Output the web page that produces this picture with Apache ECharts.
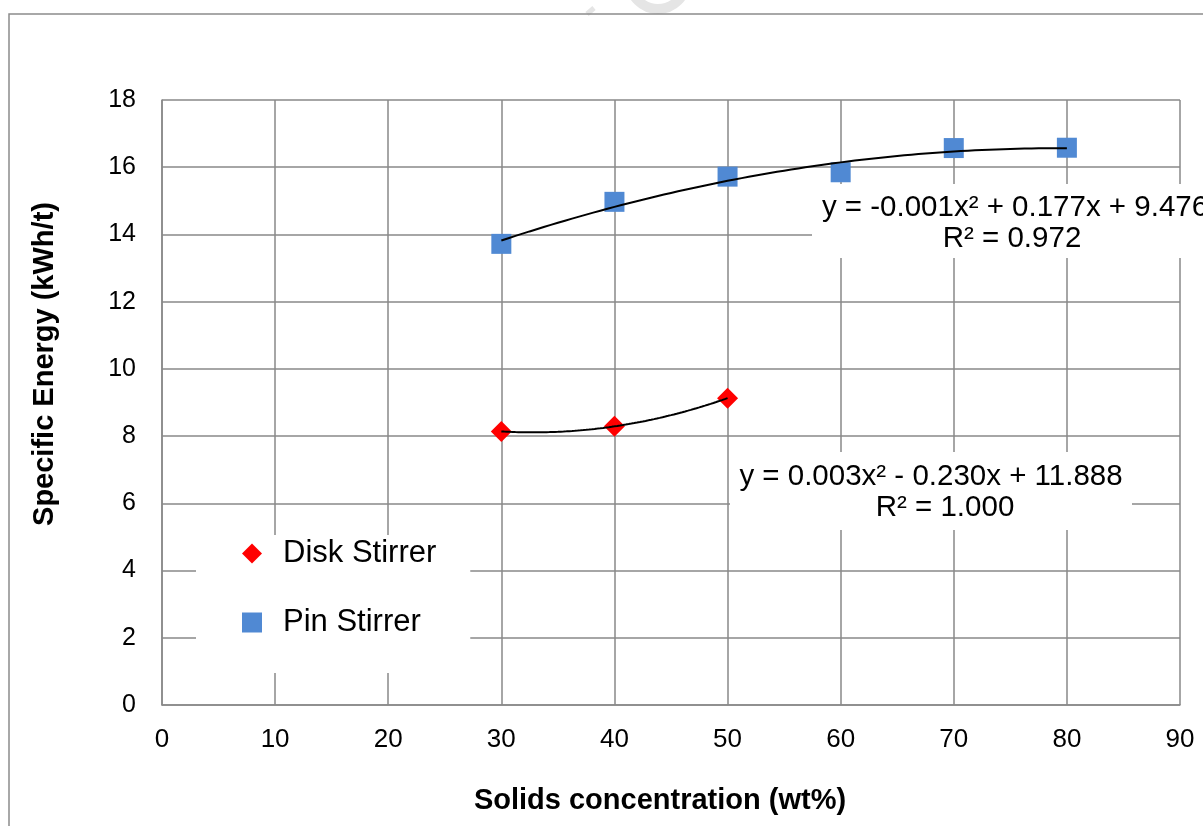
<!DOCTYPE html>
<html>
<head>
<meta charset="utf-8">
<title>Specific Energy vs Solids concentration</title>
<script src="https://cdn.jsdelivr.net/npm/echarts@6/dist/echarts.min.js"></script>
<style>
  html, body { margin: 0; padding: 0; background: #ffffff; }
  #chart { width: 1203px; height: 826px; }
</style>
</head>
<body>
<div id="chart"></div>
<script>
// Solids concentration (wt%) at which each stirrer was measured
const diskX = [30, 40, 50];
const pinX = [30, 40, 50, 60, 70, 80];
// Specific energy (kWh/t)
const diskY = [8.14, 8.29, 9.13];
const pinY = [13.72, 14.97, 15.72, 15.85, 16.57, 16.58];

const seriesNames = ['Disk Stirrer', 'Pin Stirrer'];
const xTicks = [0, 10, 20, 30, 40, 50, 60, 70, 80, 90];
const yTicks = [0, 2, 4, 6, 8, 10, 12, 14, 16, 18];
const xTitle = 'Solids concentration (wt%)';
const yTitle = 'Specific Energy (kWh/t)';
const diskEquation = ['y = 0.003x² - 0.230x + 11.888', 'R² = 1.000'];
const pinEquation = ['y = -0.001x² + 0.177x + 9.476', 'R² = 0.972'];

// Least-squares second order polynomial fit, returns [c0, c1, c2]
function polyFit2(xs, ys) {
  const n = xs.length;
  let s = [0, 0, 0, 0, 0], t = [0, 0, 0];
  for (let i = 0; i < n; i++) {
    let p = 1;
    for (let k = 0; k <= 4; k++) { s[k] += p; if (k <= 2) t[k] += p * ys[i]; p *= xs[i]; }
  }
  const m = [[s[0], s[1], s[2], t[0]], [s[1], s[2], s[3], t[1]], [s[2], s[3], s[4], t[2]]];
  for (let c = 0; c < 3; c++) {
    let piv = c;
    for (let r = c + 1; r < 3; r++) if (Math.abs(m[r][c]) > Math.abs(m[piv][c])) piv = r;
    [m[c], m[piv]] = [m[piv], m[c]];
    for (let r = 0; r < 3; r++) {
      if (r === c) continue;
      const f = m[r][c] / m[c][c];
      for (let k = c; k < 4; k++) m[r][k] -= f * m[c][k];
    }
  }
  return [m[0][3] / m[0][0], m[1][3] / m[1][1], m[2][3] / m[2][2]];
}

// Polynomial trendline evaluated across the measured range
function trendCurve(xs, ys) {
  const c = polyFit2(xs, ys);
  const x0 = Math.min(...xs), x1 = Math.max(...xs);
  const pts = [];
  const steps = 80;
  for (let i = 0; i <= steps; i++) {
    const x = x0 + (x1 - x0) * i / steps;
    pts.push([x, c[0] + c[1] * x + c[2] * x * x]);
  }
  return pts;
}

const zip = (xs, ys) => xs.map((x, i) => [x, ys[i]]);

const FONT = '"Liberation Sans", Arial, sans-serif';
const GRID = '#898989';
const BLUE = '#5089D3';
const RED = '#FF0000';

const chart = echarts.init(document.getElementById('chart'), null, { renderer: 'canvas' });

function eqText(x, y, text) {
  return {
    type: 'text', x: x, y: y, z: 11, silent: true,
    style: { text: text, font: '29.5px ' + FONT, fill: '#000', align: 'center', verticalAlign: 'middle' }
  };
}

chart.setOption({
  backgroundColor: '#ffffff',
  animation: false,
  textStyle: { fontFamily: FONT, color: '#000' },
  grid: { left: 162, right: 23, top: 100, bottom: 121, containLabel: false },
  xAxis: {
    type: 'value',
    min: xTicks[0],
    max: xTicks[xTicks.length - 1],
    interval: xTicks[1] - xTicks[0],
    axisLine: { show: true, lineStyle: { color: GRID, width: 1.5 } },
    axisTick: { show: false },
    axisLabel: { fontFamily: FONT, fontSize: 26, color: '#000', margin: 22 },
    splitLine: { show: true, lineStyle: { color: GRID, width: 1.5 } }
  },
  yAxis: {
    type: 'value',
    min: yTicks[0],
    max: yTicks[yTicks.length - 1],
    interval: yTicks[1] - yTicks[0],
    axisLine: { show: true, lineStyle: { color: GRID, width: 1.5 } },
    axisTick: { show: false },
    axisLabel: { fontFamily: FONT, fontSize: 25, color: '#000', margin: 26 },
    splitLine: { show: true, lineStyle: { color: GRID, width: 1.5 } }
  },
  legend: {
    data: seriesNames,
    orient: 'vertical',
    left: 196,
    top: 535,
    backgroundColor: '#ffffff',
    padding: [3, 34, 35, 46],
    itemWidth: 20,
    itemHeight: 20,
    itemGap: 38,
    itemStyle: { borderWidth: 0 },
    textStyle: { fontFamily: FONT, fontSize: 31, lineHeight: 31, color: '#000', padding: [0, 0, 0, 16] },
    selectedMode: false
  },
  series: [
    {
      name: 'Disk trend',
      type: 'line',
      data: trendCurve(diskX, diskY),
      showSymbol: false,
      smooth: false,
      lineStyle: { color: '#000', width: 2 },
      silent: true,
      z: 3
    },
    {
      name: 'Pin trend',
      type: 'line',
      data: trendCurve(pinX, pinY),
      showSymbol: false,
      smooth: false,
      lineStyle: { color: '#000', width: 2 },
      silent: true,
      z: 3
    },
    {
      name: seriesNames[0],
      type: 'scatter',
      data: zip(diskX, diskY),
      symbol: 'diamond',
      symbolSize: 21,
      itemStyle: { color: RED, opacity: 1 },
      z: 2
    },
    {
      name: seriesNames[1],
      type: 'scatter',
      data: zip(pinX, pinY),
      symbol: 'rect',
      symbolSize: 20,
      itemStyle: { color: BLUE, opacity: 1 },
      z: 2
    }
  ],
  graphic: [
    // faint mark at the top edge
    { type: 'circle', shape: { cx: 658, cy: -19, r: 28 }, style: { fill: null, stroke: '#e5e5e5', lineWidth: 10 }, z: 0, silent: true },
    { type: 'line', shape: { x1: 587, y1: 14, x2: 594, y2: 8 }, style: { stroke: '#e5e5e5', lineWidth: 5 }, z: 0, silent: true },
    // outer frame
    { type: 'rect', shape: { x: 9, y: 14, width: 1300, height: 900 }, style: { fill: null, stroke: '#8c8c8c', lineWidth: 1.5 }, z: 1, silent: true },
    // axis titles
    { type: 'text', x: 660, y: 801, z: 5, silent: true,
      style: { text: xTitle, font: 'bold 29px ' + FONT, fill: '#000', align: 'center', verticalAlign: 'middle' } },
    { type: 'text', x: 45, y: 364, rotation: Math.PI / 2, z: 5, silent: true,
      style: { text: yTitle, font: 'bold 29px ' + FONT, fill: '#000', align: 'center', verticalAlign: 'middle' } },
    // trendline equation boxes
    { type: 'rect', shape: { x: 730, y: 452, width: 402, height: 78 }, style: { fill: '#ffffff' }, z: 10, silent: true },
    eqText(931, 477, diskEquation[0]),
    eqText(945, 508, diskEquation[1]),
    { type: 'rect', shape: { x: 812, y: 184, width: 400, height: 74 }, style: { fill: '#ffffff' }, z: 10, silent: true },
    eqText(1015, 208, pinEquation[0]),
    eqText(1012, 239, pinEquation[1])
  ]
});
</script>
</body>
</html>
